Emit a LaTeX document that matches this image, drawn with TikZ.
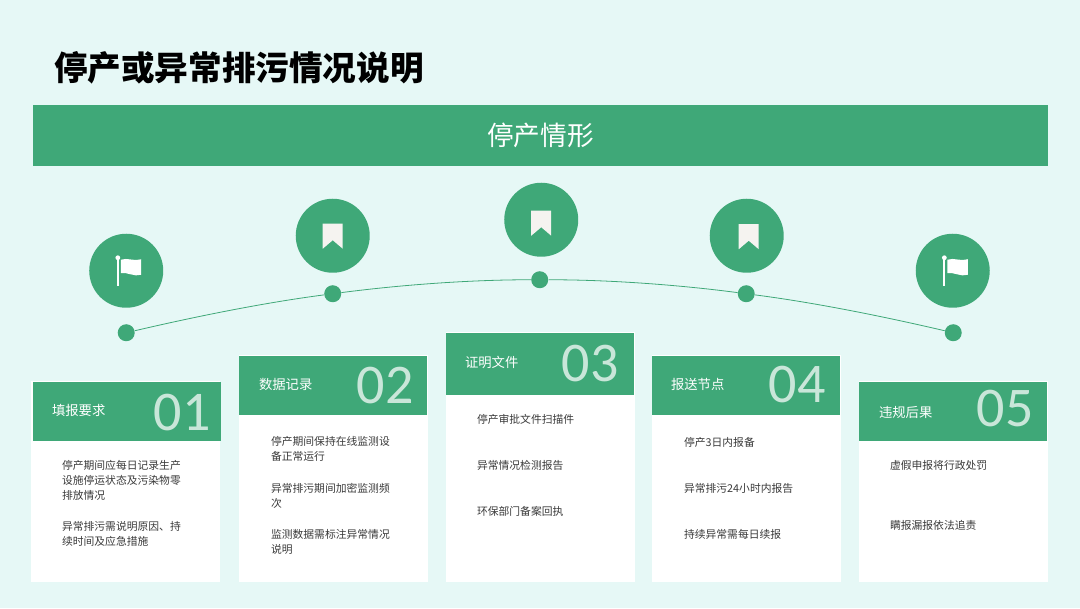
\documentclass[tikz,border=0pt]{standalone}
\usepackage{fontspec}
\setmainfont{Noto Sans CJK SC}
\newfontfamily\numfont{Carlito}
\definecolor{bgmint}{HTML}{E6F8F6}
\definecolor{leaf}{HTML}{3FA878}
\definecolor{iconwhite}{HTML}{F5F3F0}
\definecolor{bodygrey}{HTML}{3A3A3A}
\tikzset{
    flagicon/.pic={
        \fill[white] (-9.3,-12) rectangle (-7.5,15);
        \fill[white] (-8.4,-13) circle (2.4);
        \fill[white] (-5.3,-11) .. controls (1,-13.5) and (8,-9) .. (15,-11.5)
            -- (15,4) .. controls (8,6.5) and (1,1) .. (-5.3,2.5) -- cycle;
    },
    markicon/.pic={
        \fill[iconwhite] (-10,-12.5) -- (10,-12.5) -- (10,12.5) -- (0,4) -- (-10,12.5) -- cycle;
    }
}
\begin{document}
\begin{tikzpicture}[
        x=0.75pt, y=-0.75pt,
        title/.style={font=\bfseries\fontsize{25.2}{30}\selectfont, anchor=west, inner sep=0pt},
        banner/.style={fill=leaf, text=white, minimum width=761.25pt, minimum height=45.75pt, inner sep=0pt, anchor=north west, font=\fontsize{20}{24}\selectfont},
        iconDot/.style={circle, fill=leaf, minimum size=55.5pt, inner sep=0pt},
        railDot/.style={circle, fill=leaf, minimum size=12.75pt, inner sep=0pt},
        rail/.style={draw=leaf, line width=0.6pt},
        cardBody/.style={fill=white, minimum width=141.75pt, inner sep=0pt, anchor=north west},
        cardHead/.style={fill=leaf, minimum width=141pt, inner sep=0pt, anchor=north west},
        headText/.style={text=white, inner sep=0pt, anchor=west, font=\fontsize{10}{12}\selectfont},
        numText/.style={text=white, text opacity=0.72, inner sep=0pt, anchor=east, font=\numfont\fontsize{42}{42}\selectfont},
        para/.style={text=bodygrey, inner sep=0pt, anchor=north west, align=left, font=\fontsize{8.1}{11.25}\selectfont}
    ]

        % ========================================================
        % FONDO Y TITULO
        % ========================================================
        \node[fill=bgmint, minimum width=810pt, minimum height=456pt, inner sep=0pt, anchor=north west] (fondo) at (0,0) {};
        \node[title] (titulo) at (54,68) {停产或异常排污情况说明};
        \node[banner] (banda) at (33,105) {停产情形};

        % ========================================================
        % CIRCULOS CON ICONO
        % ========================================================
        \node[iconDot] (icono1) at (126.5,271) {};
        \node[iconDot] (icono2) at (333,236) {};
        \node[iconDot] (icono3) at (541.5,220) {};
        \node[iconDot] (icono4) at (747,236) {};
        \node[iconDot] (icono5) at (953,271) {};

        \pic at (126.5,271) {flagicon};
        \pic at (333,236.5) {markicon};
        \pic at (541.5,223.5) {markicon};
        \pic at (749,237) {markicon};
        \pic at (953,271) {flagicon};

        % ========================================================
        % LINEA CURVA
        % ========================================================
        \node[railDot] (punto1) at (126.5,333) {};
        \node[railDot] (punto2) at (333,294) {};
        \node[railDot] (punto3) at (540,280) {};
        \node[railDot] (punto4) at (746.5,294) {};
        \node[railDot] (punto5) at (953.5,333) {};

        \draw[rail] (punto1) .. controls (195,317) and (264,303) .. (punto2);
        \draw[rail] (punto2) .. controls (402,285) and (471,280) .. (punto3);
        \draw[rail] (punto3) .. controls (609,280) and (678,285) .. (punto4);
        \draw[rail] (punto4) .. controls (816,303) and (885,317) .. (punto5);

        % ========================================================
        % TARJETA 01
        % ========================================================
        \node[cardBody, minimum height=150.75pt] (cuerpo1) at (31,381) {};
        \node[cardHead, minimum height=44.25pt] (cabeza1) at (33,382) {};
        \node[headText] (rotulo1) at (52,411) {填报要求};
        \node[numText] (num1) at (211,413) {01};
        \node[para] (texto1a) at (62,460) {停产期间应每日记录生产\\设施停运状态及污染物零\\排放情况};
        \node[para] (texto1b) at (62,521) {异常排污需说明原因、持\\续时间及应急措施};

        % ========================================================
        % TARJETA 02
        % ========================================================
        \node[cardBody, minimum height=170.25pt] (cuerpo2) at (239,355) {};
        \node[cardHead, minimum height=44.25pt] (cabeza2) at (239,356) {};
        \node[headText] (rotulo2) at (259,385) {数据记录};
        \node[numText] (num2) at (414,386) {02};
        \node[para] (texto2a) at (271,436) {停产期间保持在线监测设\\备正常运行};
        \node[para] (texto2b) at (271,483) {异常排污期间加密监测频\\次};
        \node[para] (texto2c) at (271,529) {监测数据需标注异常情况\\说明};

        % ========================================================
        % TARJETA 03
        % ========================================================
        \node[cardBody, minimum height=187.5pt] (cuerpo3) at (446,332) {};
        \node[cardHead, minimum height=46.5pt] (cabeza3) at (446,333) {};
        \node[headText] (rotulo3) at (465,363) {证明文件};
        \node[numText] (num3) at (619,364) {03};
        \node[para] (texto3a) at (477,414) {停产审批文件扫描件};
        \node[para] (texto3b) at (477,460) {异常情况检测报告};
        \node[para] (texto3c) at (477,506) {环保部门备案回执};

        % ========================================================
        % TARJETA 04
        % ========================================================
        \node[cardBody, minimum height=170.25pt] (cuerpo4) at (652,355) {};
        \node[cardHead, minimum height=44.25pt] (cabeza4) at (652,356) {};
        \node[headText] (rotulo4) at (671,385) {报送节点};
        \node[numText] (num4) at (826,385) {04};
        \node[para] (texto4a) at (684,437) {停产3日内报备};
        \node[para] (texto4b) at (684,483) {异常排污24小时内报告};
        \node[para] (texto4c) at (684,529) {持续异常需每日续报};

        % ========================================================
        % TARJETA 05
        % ========================================================
        \node[cardBody, minimum height=150.75pt] (cuerpo5) at (859,381) {};
        \node[cardHead, minimum height=44.25pt] (cabeza5) at (859,382) {};
        \node[headText] (rotulo5) at (879,413) {违规后果};
        \node[numText] (num5) at (1034,409) {05};
        \node[para] (texto5a) at (890,460) {虚假申报将行政处罚};
        \node[para] (texto5b) at (890,520) {瞒报漏报依法追责};

    \end{tikzpicture}
\end{document}
